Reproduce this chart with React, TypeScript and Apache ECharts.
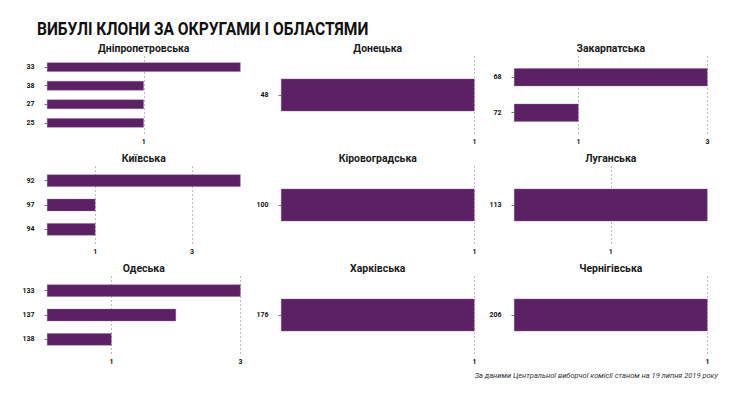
import React, { useEffect, useRef } from "react";
import * as echarts from "echarts";

const chartTitle = "ВИБУЛІ КЛОНИ ЗА ОКРУГАМИ І ОБЛАСТЯМИ";
const sourceNote = "За даними Центральної виборчої комісії станом на 19 липня 2019 року";

const panelNames = [
  "Дніпропетровська", "Донецька", "Закарпатська",
  "Київська", "Кіровоградська", "Луганська",
  "Одеська", "Харківська", "Чернігівська",
];

const dniproDistricts = ["33", "38", "27", "25"];
const dniproValues = [2, 1, 1, 1];
const donetskDistricts = ["48"];
const donetskValues = [1];
const zakarpattiaDistricts = ["68", "72"];
const zakarpattiaValues = [3, 1];
const kyivDistricts = ["92", "97", "94"];
const kyivValues = [4, 1, 1];
const kirovohradDistricts = ["100"];
const kirovohradValues = [1];
const luhanskDistricts = ["113"];
const luhanskValues = [2];
const odesaDistricts = ["133", "137", "138"];
const odesaValues = [3, 2, 1];
const kharkivDistricts = ["176"];
const kharkivValues = [1];
const chernihivDistricts = ["206"];
const chernihivValues = [1];

const panelDistricts = [
  dniproDistricts, donetskDistricts, zakarpattiaDistricts,
  kyivDistricts, kirovohradDistricts, luhanskDistricts,
  odesaDistricts, kharkivDistricts, chernihivDistricts,
];
const panelValues = [
  dniproValues, donetskValues, zakarpattiaValues,
  kyivValues, kirovohradValues, luhanskValues,
  odesaValues, kharkivValues, chernihivValues,
];
const oddBreaks = [1, 3, 5, 7];

const colLeft = [47, 281, 514];
const colWidth = 193.5;
const rowCenter = [95, 205, 315];
const panelH = 78;
const barColor = "#5b2164";
const font = "Roboto";

export default function App() {
  const ref = useRef<HTMLDivElement>(null);
  useEffect(() => {
    if (!ref.current) return;
    const chart = echarts.init(ref.current, undefined, { renderer: "svg" });
    const grids: any[] = [];
    const xAxes: any[] = [];
    const yAxes: any[] = [];
    const series: any[] = [];
    const graphics: any[] = [];

    panelNames.forEach((name, i) => {
      const col = i % 3;
      const row = Math.floor(i / 3);
      const cats = panelDistricts[i];
      const vals = panelValues[i];
      const n = cats.length;
      const maxV = Math.max(...vals);
      const ticks = oddBreaks.filter((b) => b <= maxV);
      const top = rowCenter[row] - panelH / 2;
      const unit = panelH / (n + 0.2);

      // frame grid (gridlines + x labels)
      const fg = grids.length;
      grids.push({ left: colLeft[col], width: colWidth, top, height: panelH, containLabel: false });
      xAxes.push({
        type: "value", gridIndex: fg, min: 0, max: maxV,
        axisLine: { show: false },
        axisTick: { show: false, customValues: ticks },
        axisLabel: {
          customValues: ticks, fontSize: 7, fontWeight: "bold", color: "#111",
          fontFamily: font, margin: 4,
        },
        splitLine: { show: true, lineStyle: { color: "#bdbdbd", type: [2, 2], width: 1 } },
      });
      yAxes.push({ type: "value", gridIndex: fg, min: 0, max: 1, show: false });

      // bar grid
      const bg = grids.length;
      grids.push({ left: colLeft[col], width: colWidth, top: rowCenter[row] - (n * unit) / 2, height: n * unit });
      xAxes.push({ type: "value", gridIndex: bg, min: 0, max: maxV, show: false, splitLine: { show: false } });
      yAxes.push({
        type: "category", gridIndex: bg, data: cats, inverse: true, offset: 10,
        axisLine: { show: false },
        axisTick: { show: true, length: 2.5, alignWithLabel: true, lineStyle: { color: "#777" } },
        axisLabel: { fontSize: 7, fontWeight: "bold", color: "#111", fontFamily: font, margin: 2.5 },
      });
      series.push({
        type: "bar", xAxisIndex: bg, yAxisIndex: bg, data: vals, barWidth: "50%",
        itemStyle: { color: barColor, borderColor: "#8a6490", borderWidth: 0.4 },
        silent: true,
      });

      graphics.push({
        type: "text",
        x: colLeft[col] + colWidth / 2, y: top - 7.5,
        scaleX: 0.95,
        style: {
          text: name, fontSize: 11, fontWeight: "bold", fill: "#1a1a1a",
          fontFamily: font, align: "center", verticalAlign: "middle",
        },
      });
    });

    graphics.push({
      type: "text", x: 37, y: 28.5,
      scaleX: 0.866,
      style: {
        text: chartTitle, fontSize: 18, fontWeight: "bold", fill: "#111",
        fontFamily: font, align: "left", verticalAlign: "middle",
      },
    });
    graphics.push({
      type: "text", x: 718, y: 375,
      style: {
        text: sourceNote, fontSize: 7.5, fontStyle: "italic", fill: "#333",
        fontFamily: font, align: "right", verticalAlign: "middle",
      },
    });

    chart.setOption({
      animation: false,
      backgroundColor: "#ffffff",
      grid: grids,
      xAxis: xAxes,
      yAxis: yAxes,
      series,
      graphic: graphics,
    });
    return () => chart.dispose();
  }, []);
  return (
    <div
      ref={ref}
      style={{ position: "fixed", left: 0, top: 0, width: 740, height: 399 }}
    />
  );
}
